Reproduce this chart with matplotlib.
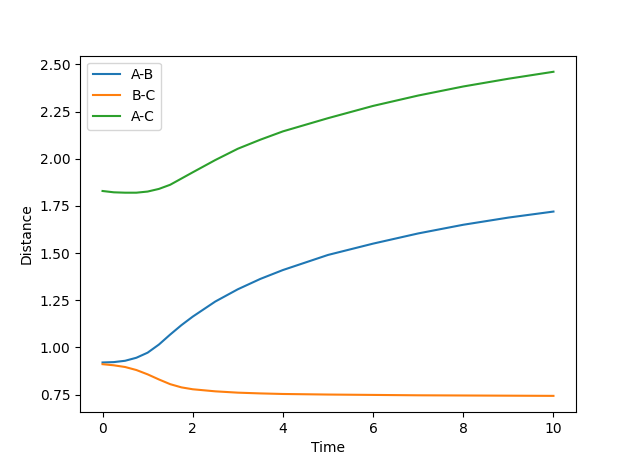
import matplotlib
matplotlib.use('Agg')
import matplotlib.pyplot as plt

time = [0, 0.25, 0.5, 0.75, 1.0, 1.25, 1.5, 1.75, 2.0, 2.5, 3.0, 3.5, 4.0, 5.0, 6.0, 7.0, 8.0, 9.0, 10.0]

ab = [0.920, 0.922, 0.929, 0.945, 0.972, 1.015, 1.068, 1.118, 1.163, 1.243, 1.308, 1.363, 1.410,
      1.490, 1.550, 1.604, 1.650, 1.688, 1.720]
bc = [0.911, 0.905, 0.896, 0.880, 0.857, 0.830, 0.805, 0.788, 0.778, 0.767, 0.760, 0.756, 0.753,
      0.750, 0.748, 0.746, 0.745, 0.744, 0.743]
ac = [1.829, 1.822, 1.820, 1.820, 1.826, 1.840, 1.862, 1.895, 1.928, 1.993, 2.053, 2.101, 2.145,
      2.215, 2.280, 2.335, 2.383, 2.424, 2.461]

fig, ax = plt.subplots(figsize=(6.4, 4.63), dpi=100)
ax.plot(time, ab, label='A-B')
ax.plot(time, bc, label='B-C')
ax.plot(time, ac, label='A-C')
ax.set_xlabel('Time')
ax.set_ylabel('Distance')
ax.legend()

plt.savefig('out.png')
